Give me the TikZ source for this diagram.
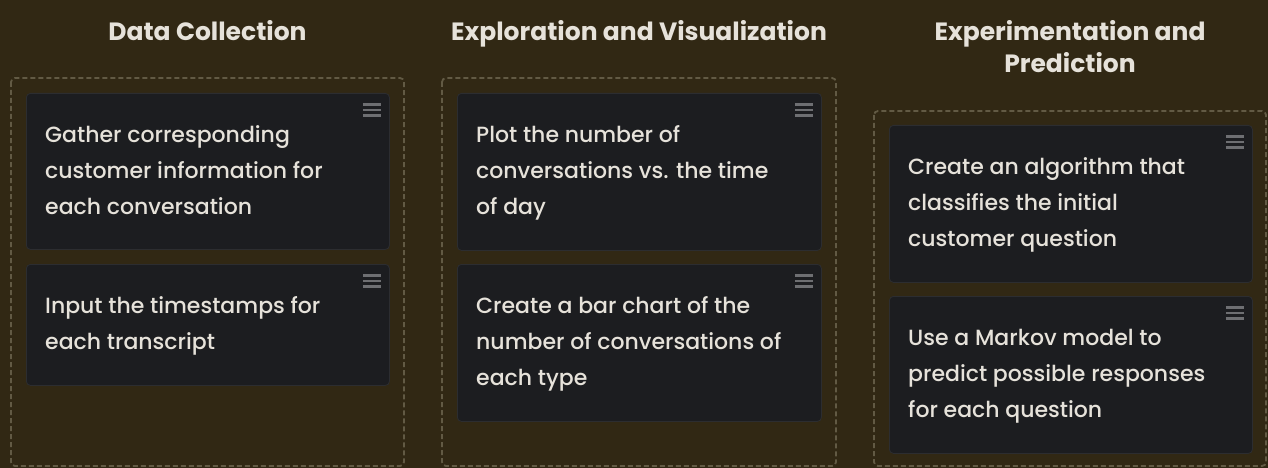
\documentclass[tikz,border=0pt]{standalone}
\usepackage{fontspec}
\setmainfont{Poppins}
\newfontfamily\medfont{Poppins}[UprightFont={* Medium}]
\definecolor{bgcol}{HTML}{312814}
\definecolor{cardcol}{HTML}{1C1D20}
\definecolor{cardedge}{HTML}{2C2D30}
\definecolor{txtcol}{HTML}{E6E2DA}
\definecolor{dashcol}{HTML}{625A44}
\definecolor{iconcol}{HTML}{6E6F72}
\tikzset{
  lane/.style={draw=dashcol, line width=1.8pt, dash pattern=on 5pt off 3pt, rounded corners=4pt},
  card/.style={draw=cardedge, fill=cardcol, line width=0.8pt, rounded corners=4pt, anchor=north west, inner sep=0pt},
  cardtext/.style={anchor=base west, inner sep=0pt, text=txtcol},
  title/.style={anchor=base, inner sep=0pt, text=txtcol, align=center,
    font=\fontsize{25pt}{32pt}\selectfont\bfseries},
  grip/.style={draw=iconcol, line width=2.4pt}
}
% card body: top-aligned paragraph so the node's base is the first line
\newcommand{\cardbody}[1]{\parbox[t]{330pt}{\raggedright\medfont\fontsize{22pt}{36pt}\selectfont #1}}
\newcommand{\taskcard}[6]{%
  % #1 name, #2 x, #3 y, #4 width, #5 height, #6 text
  \node[card, minimum width=#4pt, minimum height=#5pt] (#1) at (#2,#3) {};
  \node[cardtext] (#1-t) at ([xshift=19pt,yshift=-49.7pt]#1.north west) {\cardbody{#6}};
  \draw[grip] ([xshift=-27pt,yshift=-11.5pt]#1.north east) -- ++(18,0)
              ([xshift=-27pt,yshift=-17pt]#1.north east) -- ++(18,0)
              ([xshift=-27pt,yshift=-22.5pt]#1.north east) -- ++(18,0);
}
\begin{document}
\begin{tikzpicture}[x=1pt,y=-1pt]
\fill[bgcol] (0,0) rectangle (1268,468);
\useasboundingbox (0,0) rectangle (1268,468);

% lanes
\draw[lane] (11,78) rectangle (404,466);
\draw[lane] (442,78) rectangle (836,466);
\draw[lane] (874,111) rectangle (1266,466);

% headings (base anchor sits on the last line)
\node[title] (h1) at (207.5,40.7) {Data Collection};
\node[title] (h2) at (639,40.7) {Exploration and Visualization};
\node[title] (h3) at (1070,72.4) {Experimentation and\\Prediction};

% column 1
\taskcard{c11}{26}{93}{363}{156}{Gather corresponding\\customer information for\\each conversation}
\taskcard{c12}{26}{264}{363}{121}{Input the timestamps for\\each transcript}

% column 2
\taskcard{c21}{457}{93}{364}{157}{Plot the number of\\conversations vs. the time\\of day}
\taskcard{c22}{457}{264}{364}{157}{Create a bar chart of the\\number of conversations of\\each type}

% column 3
\taskcard{c31}{889}{125}{363}{157}{Create an algorithm that\\classifies the initial\\customer question}
\taskcard{c32}{889}{296}{363}{157}{Use a Markov model to\\predict possible responses\\for each question}
\end{tikzpicture}
\end{document}
